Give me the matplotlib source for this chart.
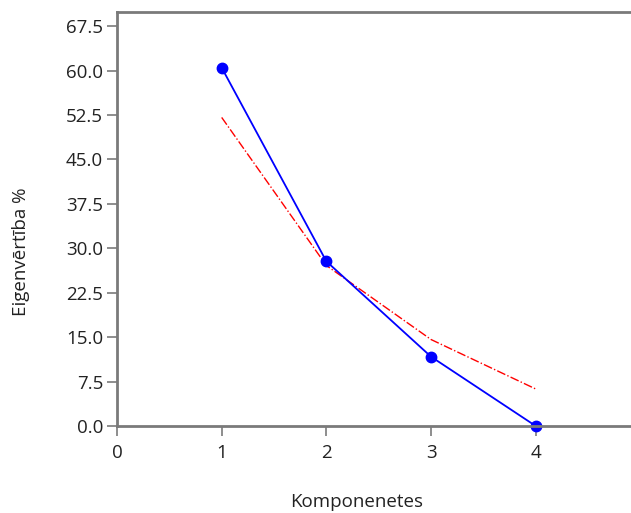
import matplotlib
matplotlib.use("Agg")
import matplotlib.pyplot as plt

# komponentes un vērtības
components = [1, 2, 3, 4]
eigen_pct = [60.5, 27.8, 11.7, 0.0]
broken_stick = [52.1, 27.1, 14.6, 6.25]
y_ticks = [0.0, 7.5, 15.0, 22.5, 30.0, 37.5, 45.0, 52.5, 60.0, 67.5]
x_ticks = [0, 1, 2, 3, 4]

plt.rcParams['font.family'] = ['Open Sans', 'DejaVu Sans']

fig = plt.figure(figsize=(6.31, 5.13), dpi=100)
ax = fig.add_axes([117/631, 1 - 426/513, (631 - 117)/631, (426 - 12)/513])

ax.plot(components, broken_stick, color='#ff0000', lw=1.0, ls='-.')
ax.plot(components, eigen_pct, color='#0000ff', lw=1.3, marker='o', ms=7.5, clip_on=False)

ax.set_xlim(0, 4.91)
ax.set_ylim(0, 69.9)
ax.set_xticks(x_ticks)
ax.set_yticks(y_ticks)
ax.set_yticklabels(['%.1f' % v for v in y_ticks])

gray = '#7a7a7a'
for side in ['left', 'top', 'bottom']:
    ax.spines[side].set_color(gray)
    ax.spines[side].set_linewidth(2)
ax.spines['right'].set_visible(False)
ax.tick_params(axis='both', colors=gray, width=1.2, length=7, labelsize=13.5,
               labelcolor='#222222', direction='out')
ax.tick_params(axis='y', pad=3)
ax.tick_params(axis='x', pad=6)

ax.set_ylabel('Eigenvērtība %', fontsize=13.5, color='#222222')
ax.set_xlabel('Komponenetes', fontsize=13.5, color='#222222')
ax.yaxis.set_label_coords(-0.17, 0.42)
ax.xaxis.set_label_coords(0.467, -0.163)

fig.savefig('out.png', dpi=100)
